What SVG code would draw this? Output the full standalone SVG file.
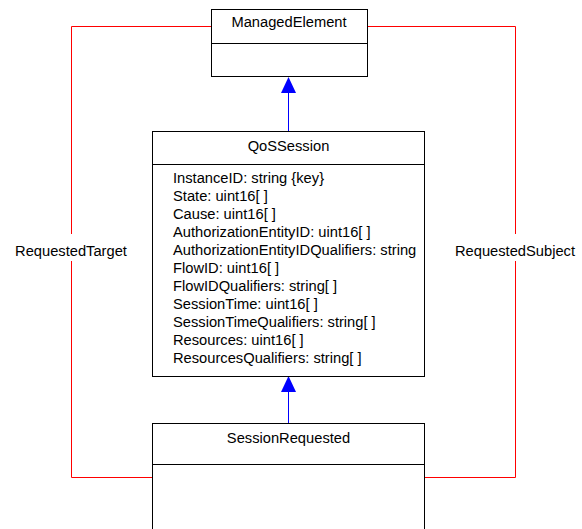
<svg xmlns="http://www.w3.org/2000/svg" width="582" height="529" viewBox="0 0 582 529">
<style>
.box{fill:#fff;stroke:#000;stroke-width:1}
.div{stroke:#000;stroke-width:1}
.t{font-family:"Liberation Sans",Arial,sans-serif;font-size:14.7px;fill:#000}
.c{text-anchor:middle}
.red{fill:none;stroke:#ff0000;stroke-width:1}
.blue{stroke:#0000ff;stroke-width:1;fill:none}
.head{fill:#0000ff;stroke:none}
</style>
<g id="connectors">
<polyline class="red" points="211.5,26.5 71.5,26.5 71.5,477.5 152.5,477.5"/>
<polyline class="red" points="367.5,26.5 515.5,26.5 515.5,477.5 424.5,477.5"/>
<rect x="10" y="234" width="124" height="27" fill="#fff"/>
<rect x="452" y="234" width="126" height="27" fill="#fff"/>
<text class="t c" x="71" y="256">RequestedTarget</text>
<text class="t c" x="515" y="256">RequestedSubject</text>
<line class="blue" x1="288.5" y1="131" x2="288.5" y2="90"/>
<polygon class="head" points="288.5,77 281,93 296,93"/>
<line class="blue" x1="288.5" y1="423" x2="288.5" y2="390"/>
<polygon class="head" points="288.5,376 281,392 296,392"/>
</g>
<g id="ManagedElement">
<rect class="box" x="211.5" y="9.5" width="156" height="67"/>
<line class="div" x1="211.5" y1="43.5" x2="367.5" y2="43.5"/>
<text class="t c" x="289" y="27">ManagedElement</text>
</g>
<g id="QoSSession">
<rect class="box" x="152.5" y="131.5" width="272" height="245"/>
<line class="div" x1="152.5" y1="164.5" x2="424.5" y2="164.5"/>
<text class="t c" x="288.5" y="151">QoSSession</text>
<text class="t" x="173" y="183">InstanceID: string {key}</text>
<text class="t" x="173" y="201">State: uint16[ ]</text>
<text class="t" x="173" y="219">Cause: uint16[ ]</text>
<text class="t" x="173" y="237">AuthorizationEntityID: uint16[ ]</text>
<text class="t" x="173" y="255">AuthorizationEntityIDQualifiers: string</text>
<text class="t" x="173" y="273">FlowID: uint16[ ]</text>
<text class="t" x="173" y="291">FlowIDQualifiers: string[ ]</text>
<text class="t" x="173" y="309">SessionTime: uint16[ ]</text>
<text class="t" x="173" y="327">SessionTimeQualifiers: string[ ]</text>
<text class="t" x="173" y="345">Resources: uint16[ ]</text>
<text class="t" x="173" y="363">ResourcesQualifiers: string[ ]</text>
</g>
<g id="SessionRequested">
<rect class="box" x="152.5" y="423.5" width="272" height="120"/>
<line class="div" x1="152.5" y1="464.5" x2="424.5" y2="464.5"/>
<text class="t c" x="288.5" y="443">SessionRequested</text>
</g>
</svg>
